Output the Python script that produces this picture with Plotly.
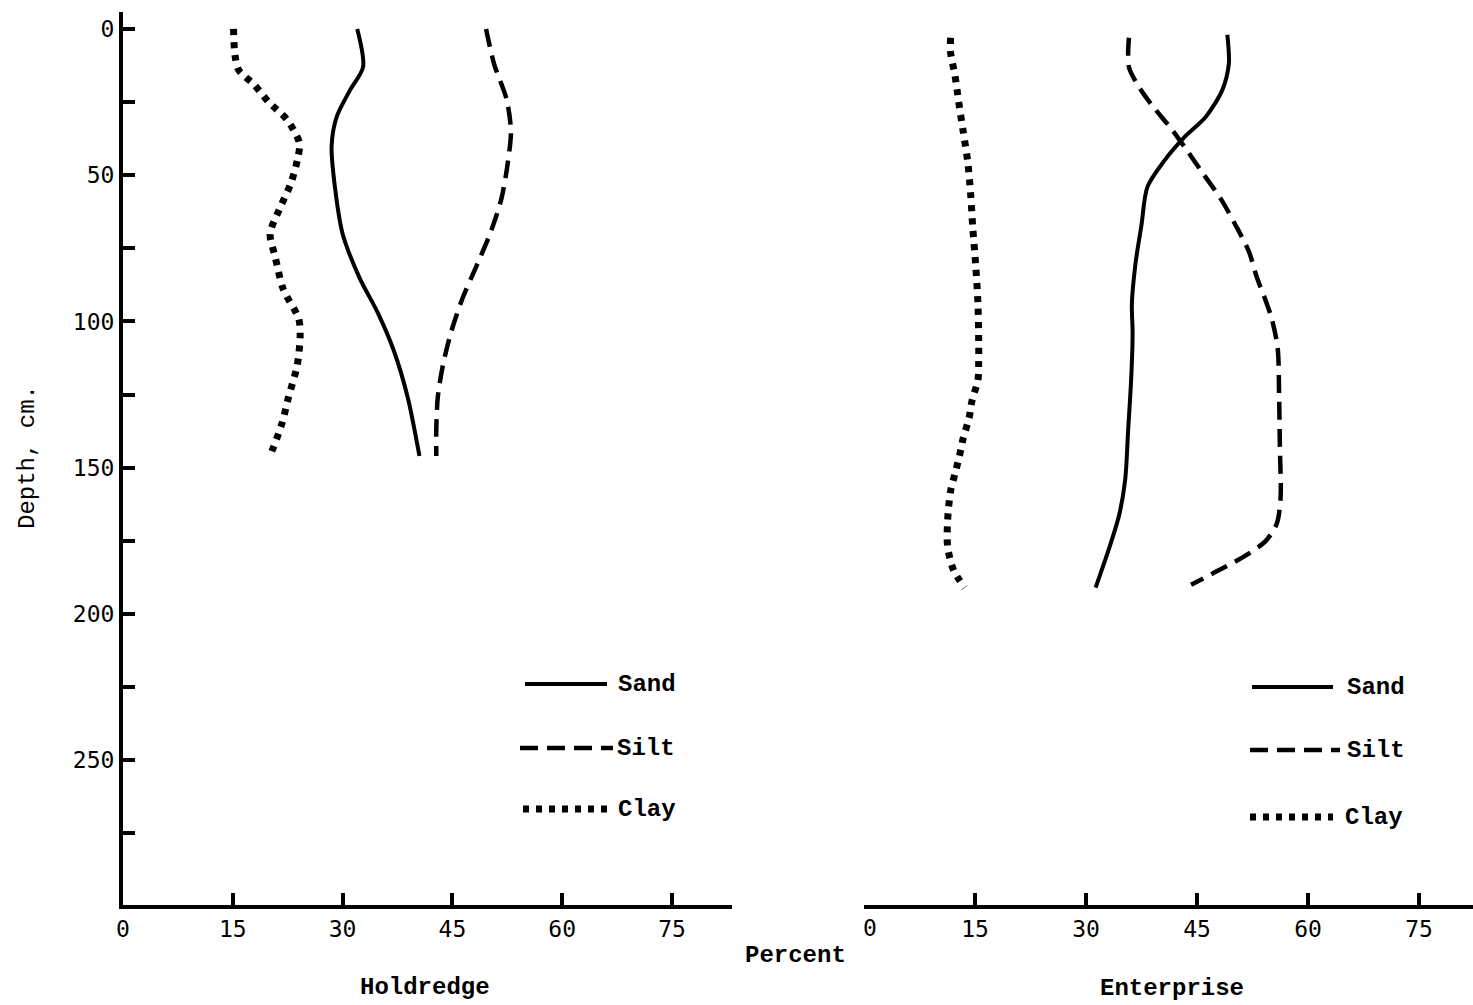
import plotly.graph_objects as go

# Particle-size distribution with depth for two soils (percent of sand, silt, clay)
hold_sand_depth = [0, 13, 21, 30, 40, 55, 70, 85, 97, 110, 126, 146]
hold_sand_pct = [32.0, 32.8, 31.0, 29.2, 28.5, 29.0, 30.0, 32.3, 34.8, 37.0, 38.9, 40.5]

hold_silt_depth = [0, 12, 24, 35, 47, 58, 69, 81, 92, 103, 115, 126, 137, 146]
hold_silt_pct = [49.6, 50.7, 52.4, 53.0, 52.5, 51.7, 50.3, 48.3, 46.4, 44.9, 43.7, 43.0, 42.8, 42.8]

hold_clay_depth = [0, 9, 14, 19, 25, 31, 39, 45, 53, 62, 70, 78, 89, 99, 105, 115, 126, 135, 146]
hold_clay_pct = [15.1, 15.3, 15.8, 17.9, 19.9, 22.4, 24.1, 23.8, 22.9, 21.3, 20.1, 20.8, 21.9,
                 24.0, 24.2, 23.8, 22.6, 21.7, 20.1]

ent_sand_depth = [2, 12, 21, 30, 37, 45, 54, 67, 80, 94, 104, 120, 137, 154, 166, 177, 191]
ent_sand_pct = [49.1, 49.3, 48.4, 46.2, 43.3, 40.6, 38.3, 37.5, 36.7, 36.2, 36.3, 36.1, 35.7,
                35.3, 34.5, 33.2, 31.3]

ent_silt_depth = [3, 13, 20, 27, 34, 41, 49, 58, 67, 76, 85, 93, 99, 109, 126, 143, 160, 169,
                  175, 180, 185, 190]
ent_silt_pct = [35.8, 35.8, 37.2, 39.2, 41.5, 43.5, 45.7, 48.2, 50.2, 52.0, 53.1, 54.3, 55.1,
                55.9, 56.1, 56.2, 56.3, 55.8, 54.3, 51.6, 48.0, 44.2]

ent_clay_depth = [3, 8, 16, 25, 35, 45, 56, 68, 81, 94, 107, 114, 120, 127, 133, 140, 146, 152,
                  158, 168, 177, 185, 191]
ent_clay_pct = [11.7, 11.7, 12.3, 12.8, 13.4, 14.0, 14.4, 14.7, 15.1, 15.4, 15.5, 15.5, 15.4,
                14.6, 14.2, 13.4, 12.9, 12.3, 11.7, 11.3, 11.3, 12.1, 13.6]

x_ticks = [0, 15, 30, 45, 60, 75]
depth_ticks = [0, 50, 100, 150, 200, 250]
depth_minor = [25, 75, 125, 175, 225, 275]
components = ["Sand", "Silt", "Clay"]
sites = ["Holdredge", "Enterprise"]

W, H = 1473, 1005
NUM_FONT = dict(family="DejaVu Sans Mono", size=23, color="black")
WORD_FONT = dict(family="Liberation Mono", size=24, color="black", weight="bold")
AXIS_TITLE_FONT = dict(family="Liberation Mono", size=24, color="black")

STYLES = {
    "Sand": dict(color="black", width=4),
    "Silt": dict(color="black", width=4.5, dash="18px,9px"),
    "Clay": dict(color="black", width=7, dash="6px,7px"),
}


def fx(p):
    return p / W


def fy(p):
    return 1 - p / H


fig = go.Figure()

panels = [
    ("x", "y", {"Sand": (hold_sand_pct, hold_sand_depth),
                "Silt": (hold_silt_pct, hold_silt_depth),
                "Clay": (hold_clay_pct, hold_clay_depth)}),
    ("x2", "y2", {"Sand": (ent_sand_pct, ent_sand_depth),
                  "Silt": (ent_silt_pct, ent_silt_depth),
                  "Clay": (ent_clay_pct, ent_clay_depth)}),
]

for xa, ya, series in panels:
    for name in components:
        xs, ys = series[name]
        fig.add_trace(go.Scatter(
            x=xs, y=ys, mode="lines", name=name, xaxis=xa, yaxis=ya,
            line=dict(shape="spline", smoothing=0.8, **STYLES[name]),
            showlegend=False, hoverinfo="skip",
        ))

y_dom = [fy(905), fy(12)]
y_range = [299.5, -5.8]

common_x = dict(
    showline=True, linewidth=4, linecolor="black", showgrid=False, zeroline=False,
    ticks="inside", ticklen=12, tickwidth=4, tickcolor="black",
    tickfont=NUM_FONT, automargin=False, fixedrange=True,
)

fig.update_layout(
    width=W, height=H,
    margin=dict(l=0, r=0, t=0, b=0),
    paper_bgcolor="white", plot_bgcolor="white",
    showlegend=False,
    xaxis=dict(domain=[fx(123), fx(732)], range=[0, 83.2], anchor="y",
               tickvals=x_ticks, ticktext=[str(v) for v in x_ticks], **common_x),
    yaxis=dict(domain=y_dom, range=y_range, anchor="x",
               showline=True, linewidth=4, linecolor="black", showgrid=False, zeroline=False,
               ticks="inside", ticklen=12, tickwidth=4, tickcolor="black",
               tickvals=depth_ticks, ticktext=[str(v) for v in depth_ticks],
               minor=dict(tickvals=depth_minor, ticks="inside", ticklen=12, tickwidth=4,
                          tickcolor="black", showgrid=False),
               tickfont=NUM_FONT, automargin=False, fixedrange=True),
    xaxis2=dict(domain=[fx(864), 1.0], range=[0, 82.3], anchor="y2",
                tickvals=x_ticks[1:], ticktext=[str(v) for v in x_ticks[1:]], **common_x),
    yaxis2=dict(domain=y_dom, range=y_range, anchor="x2", visible=False, fixedrange=True),
)

annotations = [
    dict(x=0, y=fy(913), xref="x2", yref="paper", text="0", showarrow=False, xshift=6,
         xanchor="center", yanchor="top", font=NUM_FONT),
    dict(x=fx(27), y=fy(457), xref="paper", yref="paper", text="Depth, cm.", textangle=-90,
         showarrow=False, xanchor="center", yanchor="middle", font=AXIS_TITLE_FONT),
    dict(x=fx(795), y=fy(955), xref="paper", yref="paper", text="Percent",
         showarrow=False, xanchor="center", yanchor="middle", font=WORD_FONT),
    dict(x=fx(425), y=fy(987), xref="paper", yref="paper", text=sites[0],
         showarrow=False, xanchor="center", yanchor="middle", font=WORD_FONT),
    dict(x=fx(1172), y=fy(988), xref="paper", yref="paper", text=sites[1],
         showarrow=False, xanchor="center", yanchor="middle", font=WORD_FONT),
]

# Key for each panel: sample stroke followed by its label
keys = [
    [(525, 607, 684, 616), (520, 613, 748, 615), (523, 613, 809, 616)],
    [(1252, 1333, 687, 1345), (1250, 1340, 750, 1345), (1250, 1333, 817, 1343)],
]
shapes = []
for rows in keys:
    for name, (x0, x1, yy, tx) in zip(components, rows):
        st = STYLES[name]
        shapes.append(dict(type="line", xref="paper", yref="paper",
                           x0=fx(x0), x1=fx(x1), y0=fy(yy), y1=fy(yy),
                           line=dict(color="black", width=st["width"],
                                     dash=st.get("dash", "solid"))))
        annotations.append(dict(x=fx(tx), y=fy(yy), xref="paper", yref="paper", text=name,
                                showarrow=False, xanchor="left", yanchor="middle",
                                font=WORD_FONT))

fig.update_layout(annotations=annotations, shapes=shapes)

fig.write_html("out.html")
